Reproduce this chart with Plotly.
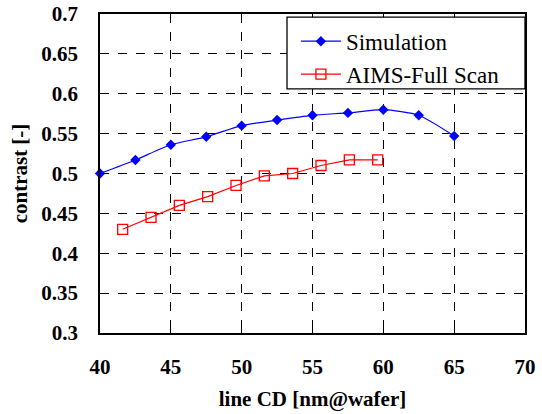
import plotly.graph_objects as go

sim_x = [40, 42.5, 45, 47.5, 50, 52.5, 55, 57.5, 60, 62.5, 65]
sim_y = [0.500, 0.517, 0.536, 0.546, 0.560, 0.567, 0.573, 0.576, 0.580, 0.573, 0.547]

aims_x = [41.6, 43.6, 45.6, 47.6, 49.6, 51.6, 53.6, 55.6, 57.6, 59.6]
aims_y = [0.430, 0.445, 0.460, 0.471, 0.485, 0.497, 0.500, 0.510, 0.517, 0.517]

x_ticks = [40, 45, 50, 55, 60, 65, 70]
y_ticks = [0.3, 0.35, 0.4, 0.45, 0.5, 0.55, 0.6, 0.65, 0.7]

FONT = "Liberation Serif"

fig = go.Figure()
fig.add_trace(go.Scatter(
    x=sim_x, y=sim_y, name="Simulation", mode="lines+markers",
    line=dict(color="#0000FF", width=1.2, shape="spline", smoothing=0.6),
    marker=dict(symbol="diamond", size=8, color="#0000FF"),
    cliponaxis=False,
))
fig.add_trace(go.Scatter(
    x=aims_x, y=aims_y, name="AIMS-Full Scan", mode="lines+markers",
    line=dict(color="#FF0000", width=1.2),
    marker=dict(symbol="square-open", size=10, color="#FF0000", line=dict(width=1.3)),
    cliponaxis=False,
))

axis_common = dict(
    showline=True, linecolor="black", linewidth=1.5, mirror=True,
    showgrid=True, gridcolor="black", griddash="dash", gridwidth=1,
    ticks="inside", ticklen=5, tickcolor="black",
    zeroline=False, automargin=False,
    tickfont=dict(family=FONT, size=21, color="black", weight="bold"),
)

fig.update_xaxes(
    range=[40, 70], tickvals=x_ticks, ticktext=[str(v) for v in x_ticks],
    title=dict(text="line CD [nm@wafer]", font=dict(family=FONT, size=21, color="black", weight="bold"), standoff=13),
    ticklabelstandoff=14,
    **axis_common,
)
fig.update_yaxes(
    range=[0.3, 0.7], tickvals=y_ticks, ticktext=[f"{v:g}" for v in y_ticks],
    title=dict(text="contrast [-]", font=dict(family=FONT, size=21, color="black", weight="bold"), standoff=8),
    ticklabelstandoff=16,
    **axis_common,
)

# legend frame (white box with black border) behind the legend items
fig.add_shape(
    type="rect", xref="paper", yref="paper",
    x0=0.44, x1=1.0, y0=0.765, y1=0.99,
    fillcolor="white", line=dict(color="black", width=1.3), layer="above",
)

fig.update_layout(
    width=542, height=414,
    margin=dict(l=100, r=17, t=14, b=81),
    paper_bgcolor="white", plot_bgcolor="white",
    font=dict(family=FONT, color="black"),
    showlegend=True,
    legend=dict(
        x=0.461, y=0.982, xanchor="left", yanchor="top",
        bgcolor="rgba(0,0,0,0)", borderwidth=0,
        font=dict(family=FONT, size=23, color="black"),
        itemwidth=40, tracegroupgap=0,
    ),
)

fig.write_html("out.html")
